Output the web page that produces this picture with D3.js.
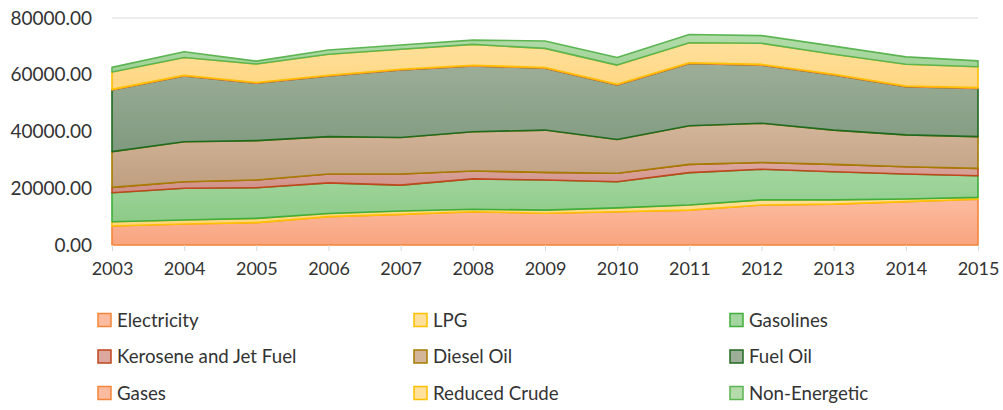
<!DOCTYPE html>
<html>
<head>
<meta charset="utf-8">
<script src="https://cdn.jsdelivr.net/npm/d3@7"></script>
<style>
  body { margin: 0; background: #fff; }
  text { font-family: Lato, "Open Sans", sans-serif; fill: #333; }
</style>
</head>
<body>
<svg id="chart" width="1003" height="410"></svg>
<script>
const years = [2003, 2004, 2005, 2006, 2007, 2008, 2009, 2010, 2011, 2012, 2013, 2014, 2015]
const seriesNames = ['Electricity', 'LPG', 'Gasolines', 'Kerosene and Jet Fuel', 'Diesel Oil', 'Fuel Oil', 'Gases', 'Reduced Crude', 'Non-Energetic']

const electricity = [6700, 7400, 7900, 10000, 10800, 11700, 11200, 11700, 12300, 14100, 14400, 15300, 16100]
const lpg = [1500, 1400, 1500, 1100, 1200, 900, 1100, 1400, 1800, 1800, 1500, 900, 700]
const gasolines = [10200, 11200, 10800, 10800, 9100, 10700, 10600, 9200, 11400, 10800, 9900, 8800, 7600]
const kerosene = [1900, 2300, 2700, 3100, 3900, 2800, 2700, 3000, 2900, 2400, 2600, 2600, 2600]
const diesel = [12600, 14100, 13900, 13200, 12900, 13800, 14900, 11900, 13600, 13800, 12100, 11200, 11200]
const fuelOil = [21700, 23200, 20200, 21400, 23800, 23200, 21800, 19200, 22000, 20500, 19400, 17000, 17000]
const gases = [250, 250, 250, 250, 250, 250, 250, 250, 250, 250, 250, 250, 250]
const reducedCrude = [6150, 6250, 6550, 7350, 7050, 7350, 6750, 6750, 7050, 7450, 7050, 7650, 7350]
const nonEnergetic = [1600, 2000, 1000, 1500, 1500, 1500, 2600, 2700, 2900, 2700, 2900, 2600, 2100]

const yTicks = [0, 20000, 40000, 60000, 80000]

// fill top, fill bottom, border
const colors = [
  ['#fbbb9f', '#f9a47f', '#f5853a'],
  ['#ffdf9a', '#ffd47a', '#ffc000'],
  ['#a3d69f', '#8dcb88', '#3fae3a'],
  ['#dba79f', '#cf8f84', '#c0461c'],
  ['#d3b59a', '#c09f80', '#a67c00'],
  ['#9dae98', '#7f9a7f', '#1f6a1f'],
  ['#fbbb9f', '#f9a47f', '#f5853a'],
  ['#ffe09c', '#ffd680', '#ffc000'],
  ['#b3dcaa', '#9ed295', '#5cb552']
]

const allValues = [electricity, lpg, gasolines, kerosene, diesel, fuelOil, gases, reducedCrude, nonEnergetic]
const table = years.map((y, i) => {
  const row = { year: y }
  seriesNames.forEach((n, k) => row[n] = allValues[k][i])
  return row
})

const svg = d3.select('svg#chart')

const xScale = d3
  .scaleLinear()
  .domain([2003, 2015])
  .range([112, 978])

const yScale = d3
  .scaleLinear()
  .domain([0, 80000])
  .range([245, 18])

const defs = svg.append('defs')
colors.forEach((c, i) => {
  const g = defs.append('linearGradient')
    .attr('id', 'grad' + i)
    .attr('x1', 0).attr('y1', 0).attr('x2', 0).attr('y2', 1)
  g.append('stop').attr('offset', '0%').attr('stop-color', c[0])
  g.append('stop').attr('offset', '100%').attr('stop-color', c[1])
})

// gridlines
svg.append('g')
  .selectAll('line')
  .data(yTicks)
  .enter()
  .append('line')
  .attr('x1', xScale(2003))
  .attr('x2', xScale(2015))
  .attr('y1', d => yScale(d))
  .attr('y2', d => yScale(d))
  .attr('stroke', '#d9d9d9')
  .attr('stroke-width', 1)

const stack = d3.stack().keys(seriesNames)
const layers = stack(table)

const area = d3.area()
  .x(d => xScale(d.data.year))
  .y0(d => yScale(d[0]))
  .y1(d => yScale(d[1]))

svg.append('g')
  .selectAll('path')
  .data(layers)
  .enter()
  .append('path')
  .attr('d', area)
  .attr('fill', (d, i) => 'url(#grad' + i + ')')
  .attr('stroke', (d, i) => colors[i][2])
  .attr('stroke-width', 1.6)
  .attr('stroke-linejoin', 'round')

// x axis
const xAxis = d3.axisBottom(xScale)
  .tickValues(years)
  .tickFormat(d3.format('d'))
  .tickSize(6)
  .tickPadding(11)

const gx = svg.append('g')
  .attr('transform', 'translate(0,' + yScale(0) + ')')
  .call(xAxis)
gx.select('.domain').remove()
gx.selectAll('line').attr('stroke', '#d9d9d9')
gx.selectAll('text')
  .attr('font-size', '18px')
  .attr('font-family', 'Lato, sans-serif')
  .attr('fill', '#333')

// y axis
const yAxis = d3.axisLeft(yScale)
  .tickValues(yTicks)
  .tickFormat(d3.format('.2f'))
  .tickSize(0)
  .tickPadding(20)

const gy = svg.append('g')
  .attr('transform', 'translate(' + xScale(2003) + ',0)')
  .call(yAxis)
gy.select('.domain').remove()
gy.selectAll('text')
  .attr('font-size', '19px')
  .attr('font-family', 'Lato, sans-serif')
  .attr('fill', '#333')

// legend
const legend = svg.append('g')
  .selectAll('g')
  .data(seriesNames)
  .enter()
  .append('g')
  .attr('transform', (d, i) => 'translate(' + (98 + (i % 3) * 316) + ',' + (320 + Math.floor(i / 3) * 36.5) + ')')

legend.append('rect')
  .attr('x', 0)
  .attr('y', -6.5)
  .attr('width', 13)
  .attr('height', 13)
  .attr('fill', (d, i) => colors[i][0])
  .attr('stroke', (d, i) => colors[i][2])
  .attr('stroke-width', 1.5)

legend.append('text')
  .attr('x', 19)
  .attr('y', 0)
  .attr('dy', '0.35em')
  .attr('font-size', '18.7px')
  .text(d => d)
</script>
</body>
</html>
